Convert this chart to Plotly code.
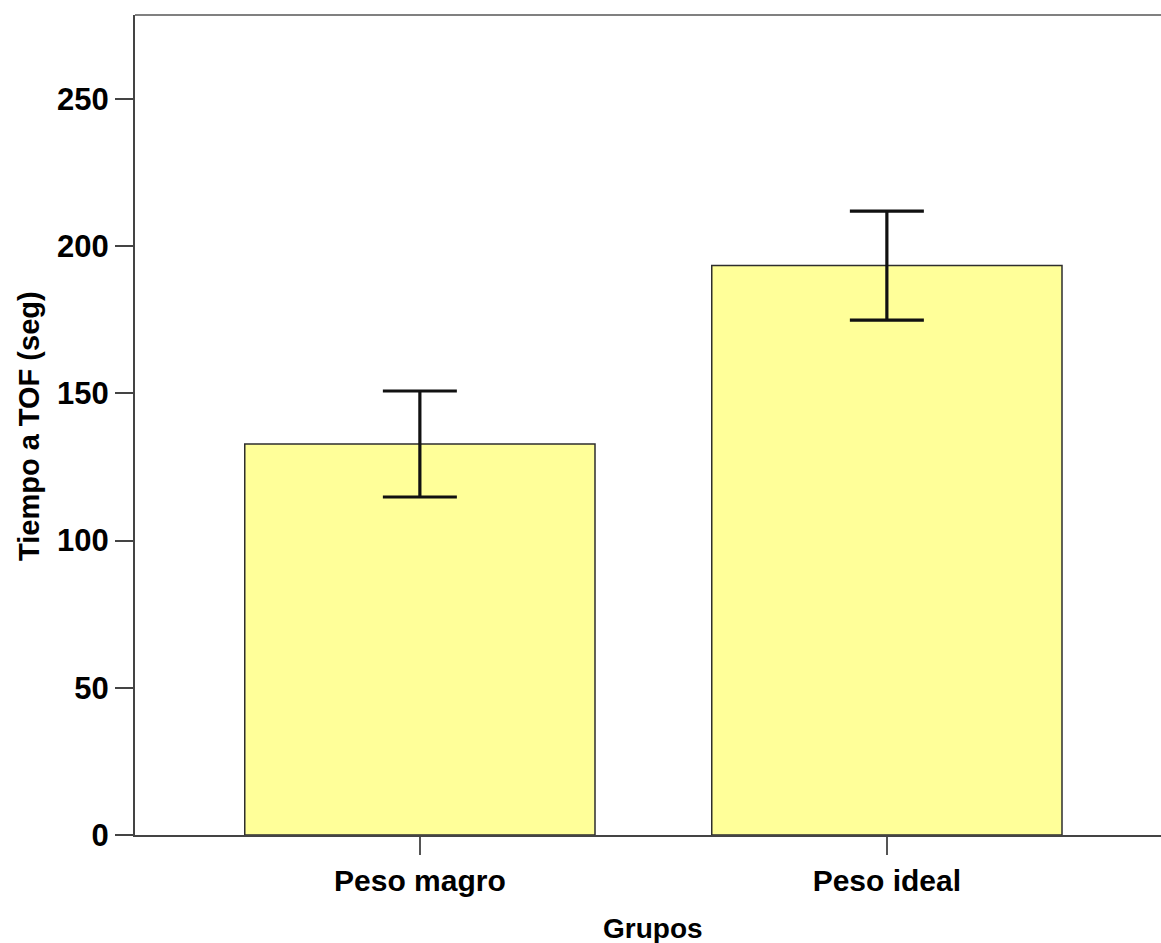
import plotly.graph_objects as go

categories = ["Peso magro", "Peso ideal"]
means = [132.8, 193.4]
errors = [18.0, 18.5]
y_ticks = [0, 50, 100, 150, 200, 250]

FONT = "Liberation Sans, Arial, sans-serif"
x_pos = list(range(len(categories)))

fig = go.Figure()
fig.add_trace(go.Bar(
    x=x_pos, y=means, width=0.75,
    marker=dict(color="#FFFF99", line=dict(color="#2e2e2e", width=1.5)),
    error_y=dict(type="data", array=errors, visible=True, color="#111111",
                 thickness=3.2, width=37),
    showlegend=False,
))

fig.update_layout(
    width=1161, height=943,
    margin=dict(l=135, r=0, t=15, b=108),
    plot_bgcolor="white", paper_bgcolor="white",
    font=dict(family=FONT, size=28, color="black", weight="bold"),
    xaxis=dict(
        range=[-0.61, 1.587], tickmode="array", tickvals=x_pos, ticktext=categories,
        ticks="outside", ticklen=18, tickwidth=2, tickcolor="#555555",
        showline=True, linecolor="#444444", linewidth=2,
        showgrid=False, zeroline=False,
        tickfont=dict(family=FONT, size=30, color="black", weight="bold"),
    ),
    yaxis=dict(
        range=[0, 278.5], tickmode="array", tickvals=y_ticks,
        ticks="outside", ticklen=18, tickwidth=2, tickcolor="#444444",
        showline=True, linecolor="#444444", linewidth=2,
        showgrid=False, zeroline=False,
        tickfont=dict(family=FONT, size=31, color="black", weight="bold"),
    ),
    shapes=[dict(type="line", xref="paper", yref="paper", x0=0, x1=1, y0=1, y1=1,
                 line=dict(color="#808080", width=2))],
    annotations=[
        dict(text="Tiempo a TOF (seg)", textangle=-90, xref="paper", yref="paper",
             x=(29 - 135) / 1026, y=(835 - 426) / 820, xanchor="center", yanchor="middle",
             showarrow=False, font=dict(family=FONT, size=29, color="black", weight="bold")),
        dict(text="Grupos", xref="paper", yref="paper",
             x=(653 - 135) / 1026, y=(835 - 928) / 820, xanchor="center", yanchor="middle",
             showarrow=False, font=dict(family=FONT, size=28, color="black", weight="bold")),
    ],
)

fig.write_html("out.html")
